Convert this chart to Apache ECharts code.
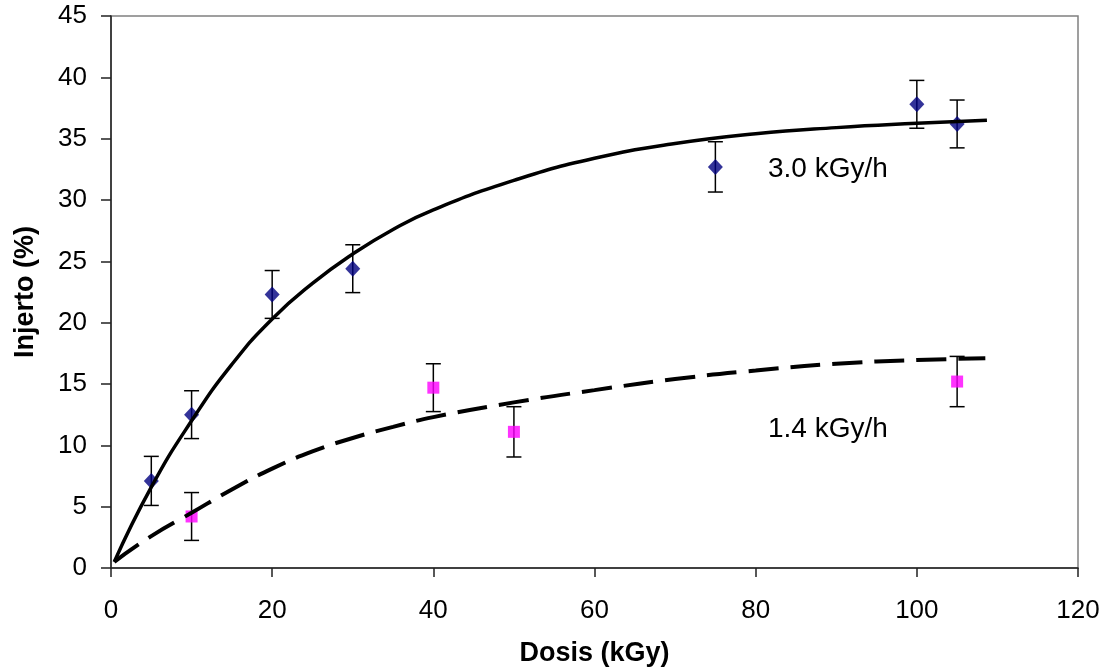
<!DOCTYPE html>
<html>
<head>
<meta charset="utf-8">
<script src="https://cdn.jsdelivr.net/npm/echarts@6/dist/echarts.min.js"></script>
<style>
  html, body { margin: 0; padding: 0; background: #fff; }
  #chart { width: 1110px; height: 672px; }
</style>
</head>
<body>
<div id="chart"></div>
<script>
// measured points, 3.0 kGy/h
const doseHigh = [5, 10, 20, 30, 75, 100, 105];
const graftHigh = [7.1, 12.5, 22.3, 24.4, 32.7, 37.8, 36.2];
const errHigh = [2.0, 1.95, 1.95, 1.95, 2.05, 1.95, 1.95];

// measured points, 1.4 kGy/h
const doseLow = [10, 40, 50, 105];
const graftLow = [4.2, 14.7, 11.1, 15.2];
const errLow = [1.95, 1.95, 2.05, 2.05];

// fitted curves
const fitHighX = [0.4, 5, 10, 15, 20, 25, 30, 35, 40, 50, 60, 70, 80, 90, 100, 108.7];
const fitHighY = [0.5, 6.6, 12.0, 16.6, 20.3, 23.2, 25.6, 27.6, 29.2, 31.6, 33.4, 34.6, 35.4, 35.9, 36.25, 36.5];
const fitLowX = [0.4, 5, 10, 15, 20, 25, 30, 35, 40, 50, 60, 70, 80, 90, 100, 108.5];
const fitLowY = [0.5, 2.6, 4.5, 6.4, 8.1, 9.5, 10.6, 11.5, 12.3, 13.5, 14.5, 15.4, 16.1, 16.65, 16.95, 17.1];

const FONT = 'Liberation Sans, Arial, sans-serif';

const pairs = (xs, ys) => xs.map((x, i) => [x, ys[i]]);
const triples = (xs, ys, es) => xs.map((x, i) => [x, ys[i], es[i]]);

const errorBars = (params, api) => {
  const x = api.value(0), y = api.value(1), e = api.value(2);
  const top = api.coord([x, y + e]);
  const bot = api.coord([x, y - e]);
  const hw = 7.5;
  const style = { stroke: '#000', lineWidth: 1.5 };
  return {
    type: 'group',
    children: [
      { type: 'line', shape: { x1: top[0], y1: top[1], x2: bot[0], y2: bot[1] }, style },
      { type: 'line', shape: { x1: top[0] - hw, y1: top[1], x2: top[0] + hw, y2: top[1] }, style },
      { type: 'line', shape: { x1: bot[0] - hw, y1: bot[1], x2: bot[0] + hw, y2: bot[1] }, style }
    ]
  };
};

var option = {
  animation: false,
  textStyle: { fontFamily: FONT },
  grid: {
    left: 111, right: 32, top: 16, bottom: 103,
    show: true, borderColor: '#808080', borderWidth: 1.5
  },
  xAxis: {
    type: 'value', min: 0, max: 120, interval: 20,
    name: 'Dosis (kGy)', nameLocation: 'middle', nameGap: 72,
    nameTextStyle: { fontSize: 27, fontWeight: 'bold', color: '#000', fontFamily: FONT },
    axisLine: { show: true, onZero: false, lineStyle: { color: '#222', width: 1.5 } },
    axisTick: { show: true, length: 9, lineStyle: { color: '#222', width: 1.5 } },
    axisLabel: { fontSize: 26, color: '#000', margin: 30, fontFamily: FONT },
    splitLine: { show: false }
  },
  yAxis: {
    type: 'value', min: 0, max: 45, interval: 5,
    name: 'Injerto (%)', nameLocation: 'middle', nameGap: 72,
    nameTextStyle: { fontSize: 27, fontWeight: 'bold', color: '#000', fontFamily: FONT },
    axisLine: { show: true, onZero: false, lineStyle: { color: '#222', width: 1.5 } },
    axisTick: { show: true, length: 10, lineStyle: { color: '#222', width: 1.5 } },
    axisLabel: { fontSize: 26, color: '#000', margin: 24, fontFamily: FONT },
    splitLine: { show: false }
  },
  graphic: [
    { type: 'text', left: 768, top: 155, style: { text: '3.0 kGy/h', fill: '#000', font: '28px ' + FONT } },
    { type: 'text', left: 768, top: 415, style: { text: '1.4 kGy/h', fill: '#000', font: '28px ' + FONT } }
  ],
  series: [
    {
      type: 'custom', name: 'errHigh', renderItem: errorBars, z: 2,
      data: triples(doseHigh, graftHigh, errHigh)
    },
    {
      type: 'custom', name: 'errLow', renderItem: errorBars, z: 2,
      data: triples(doseLow, graftLow, errLow)
    },
    {
      type: 'scatter', name: '3.0 kGy/h', symbol: 'diamond', symbolSize: [15, 16], z: 3,
      itemStyle: { color: '#000080' },
      data: pairs(doseHigh, graftHigh)
    },
    {
      type: 'scatter', name: '1.4 kGy/h', symbol: 'rect', symbolSize: 12, z: 3,
      itemStyle: { color: '#ff00ff' },
      data: pairs(doseLow, graftLow)
    },
    {
      type: 'line', name: 'fitHigh', showSymbol: false, smooth: 0.5, z: 4,
      lineStyle: { color: '#000', width: 3.5 },
      data: pairs(fitHighX, fitHighY)
    },
    {
      type: 'line', name: 'fitLow', showSymbol: false, smooth: 0.5, z: 4,
      lineStyle: { color: '#000', width: 4, type: [30, 12] },
      data: pairs(fitLowX, fitLowY)
    }
  ]
};

const chart = echarts.init(document.getElementById('chart'));
chart.setOption(option);
</script>
</body>
</html>
